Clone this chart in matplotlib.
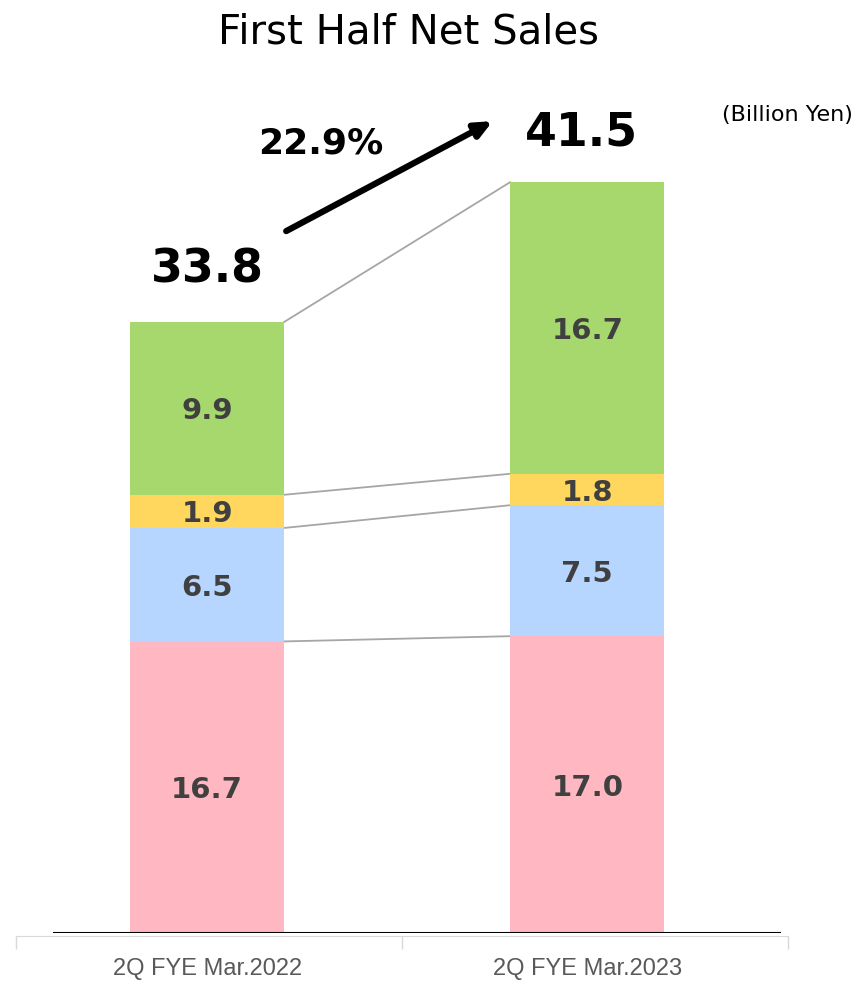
import matplotlib.pyplot as plt
import numpy as np

# data
categories = ["2Q FYE Mar.2022", "2Q FYE Mar.2023"]
seg_pink = [16.7, 17.0]
seg_blue = [6.5, 7.5]
seg_yellow = [1.9, 1.8]
seg_green = [9.9, 16.7]
totals = ["33.8", "41.5"]
growth = "22.9%"

colors = ["#FFB7C1", "#B7D6FF", "#FFD75F", "#A6D86E"]
segments = [seg_pink, seg_blue, seg_yellow, seg_green]

fig = plt.figure(figsize=(8.6, 9.83), dpi=100)
ax = fig.add_axes([16 / 860, 1 - 933 / 983, 772 / 860, 873 / 983])

x = np.array([-0.005, 0.98])
w = 0.4
bottom = np.zeros(len(categories))
tops = []
for vals, c in zip(segments, colors):
    vals = np.array(vals)
    ax.bar(x, vals, w, bottom=bottom, color=c, zorder=2)
    for xi, b, v in zip(x, bottom, vals):
        ax.text(xi, b + v / 2, f"{v:.1f}", ha="center", va="center_baseline",
                fontsize=21, fontweight="bold", color="#404040", zorder=3)
    bottom = bottom + vals
    tops.append(bottom.copy())

# connector lines between bars
for t in tops:
    ax.plot([x[0] + w / 2, x[1] - w / 2], [t[0], t[1]], color="#A6A6A6",
            lw=1.3, zorder=1)

ax.set_xlim(-0.5, 1.5)
ax.set_ylim(0, 50)

# totals
ax.text(x[0], tops[-1][0] + 3.0, totals[0], ha="center", va="center",
        fontsize=33, fontweight="bold", color="black")
ax.text(x[1] - 0.015, tops[-1][1] + 2.8, totals[1], ha="center", va="center",
        fontsize=33, fontweight="bold", color="black")

# growth arrow
ax.annotate("", xy=(0.735, 46.5), xytext=(0.2, 40.2),
            arrowprops=dict(arrowstyle="-|>,head_width=0.45,head_length=1.0",
                            color="black", lw=4.5, shrinkA=0, shrinkB=0))
ax.text(0.29, 45.2, growth, ha="center", va="center", fontsize=26,
        fontweight="bold", color="black")

# axes styling
for s in ["left", "right", "top"]:
    ax.spines[s].set_visible(False)
ax.spines["bottom"].set_color("#D9D9D9")
ax.spines["bottom"].set_position(("outward", 2))
ax.axhline(0, xmin=38 / 772, xmax=764 / 772, color="black", lw=1.5, zorder=4)
ax.set_yticks([])
ax.set_xticks(x)
ax.set_xticklabels(categories, fontsize=17, color="#595959",
                   family="Liberation Sans")
ax.tick_params(axis="x", which="major", length=0, pad=16)
ax.set_xticks([-0.5, 0.5, 1.5], minor=True)
ax.tick_params(axis="x", which="minor", length=9, color="#D9D9D9", width=1)

fig.text(408 / 860, 1 - 33 / 983, "First Half Net Sales", ha="center",
         va="center", fontsize=29, color="black")
fig.text(787 / 860, 1 - 115 / 983, "(Billion Yen)", ha="center",
         va="center", fontsize=16, color="black")

fig.savefig("out.png", dpi=100)
